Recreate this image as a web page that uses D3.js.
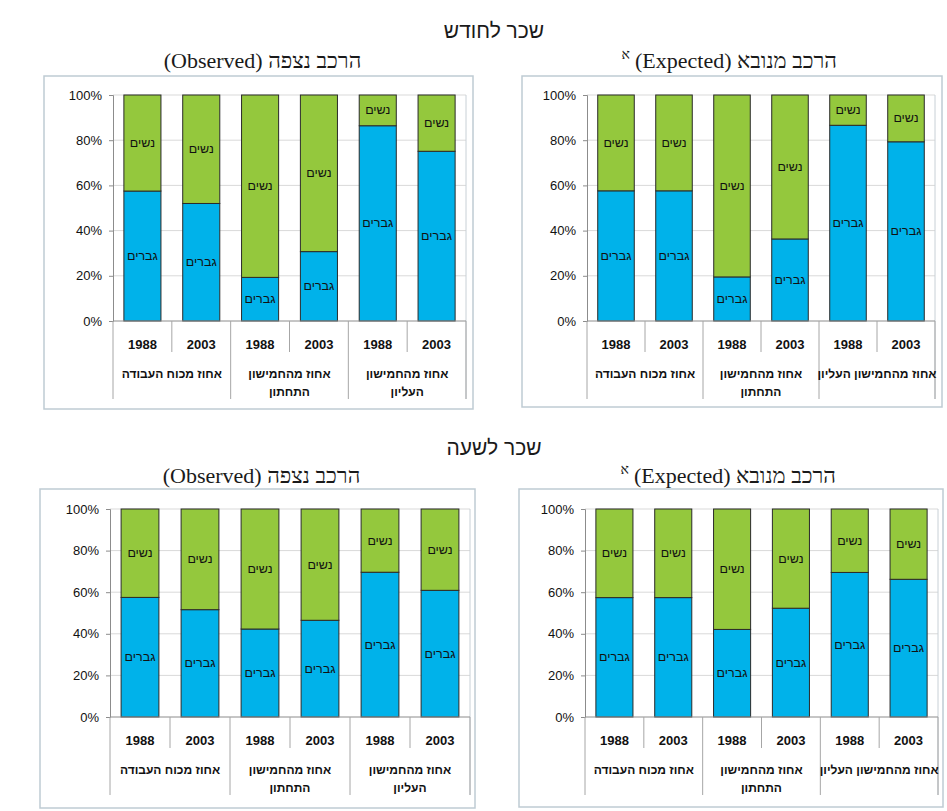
<!DOCTYPE html>
<html lang="he">
<head>
<meta charset="utf-8">
<script src="https://cdn.jsdelivr.net/npm/d3@7"></script>
<style>
  html, body { margin: 0; padding: 0; background: #ffffff; }
  svg { display: block; }
  text { font-family: Arial, "Liberation Sans", "DejaVu Sans", sans-serif; }
</style>
</head>
<body>
<svg id="chart" width="947" height="811"></svg>
<script>
// ---- Data ----
const years = ["1988", "2003", "1988", "2003", "1988", "2003"];
const groupNames = ["אחוז מכוח העבודה", "אחוז מהחמישון התחתון", "אחוז מהחמישון העליון"];
// group labels as they wrap under the axis (observed panels / expected panels)
const groupLinesObserved = [["אחוז מכוח העבודה"], ["אחוז מהחמישון", "התחתון"], ["אחוז מהחמישון", "העליון"]];
const groupLinesExpected = [["אחוז מכוח העבודה"], ["אחוז מהחמישון", "התחתון"], ["אחוז מהחמישון העליון"]];
const seriesNames = ["גברים", "נשים"];
const yTicks = [0, 20, 40, 60, 80, 100];

// monthly wage: observed and expected composition (% of each bar)
const menObservedMonthly   = [57.5, 52.0, 19.3, 30.7, 86.4, 75.1];
const womenObservedMonthly = [42.5, 48.0, 80.7, 69.3, 13.6, 24.9];
const menExpectedMonthly   = [57.6, 57.6, 19.5, 36.3, 86.6, 79.3];
const womenExpectedMonthly = [42.4, 42.4, 80.5, 63.7, 13.4, 20.7];
// hourly wage
const menObservedHourly    = [57.5, 51.6, 42.3, 46.5, 69.6, 60.9];
const womenObservedHourly  = [42.5, 48.4, 57.7, 53.5, 30.4, 39.1];
const menExpectedHourly    = [57.4, 57.4, 42.1, 52.3, 69.5, 66.2];
const womenExpectedHourly  = [42.6, 42.6, 57.9, 47.7, 30.5, 33.8];

const headings = ["שכר לחודש", "שכר לשעה"];
const titleObserved = "הרכב נצפה (Observed)";
const titleExpected = "הרכב מנובא (Expected)";

// ---- Layout ----
const COLORS = { men: "#00b2ea", women: "#94c83d" };
const svg = d3.select("#chart");

const panels = [
  { frame: [44, 76, 473, 409],  plot: [113, 466, 95, 321],  title: titleObserved, sup: false, titleY: 60,  men: menObservedMonthly, women: womenObservedMonthly, lines: groupLinesObserved },
  { frame: [522, 76, 942, 407], plot: [587, 935, 95, 321],  title: titleExpected, sup: true,  titleY: 60,  men: menExpectedMonthly, women: womenExpectedMonthly, lines: groupLinesExpected },
  { frame: [40, 489, 475, 808], plot: [110, 470, 509, 717], title: titleObserved, sup: false, titleY: 475, men: menObservedHourly, women: womenObservedHourly, lines: groupLinesObserved },
  { frame: [519, 489, 943, 807], plot: [585, 938, 509, 717], title: titleExpected, sup: true,  titleY: 475, men: menExpectedHourly, women: womenExpectedHourly, lines: groupLinesExpected }
];

// section headings
svg.append("text").attr("x", 494).attr("y", 30).attr("text-anchor", "middle")
  .attr("dominant-baseline", "central").attr("direction", "rtl")
  .style("font-size", "21px").style("fill", "#1a1a1a").text(headings[0]);
svg.append("text").attr("x", 494).attr("y", 447).attr("text-anchor", "middle")
  .attr("dominant-baseline", "central").attr("direction", "rtl")
  .style("font-size", "21px").style("fill", "#1a1a1a").text(headings[1]);

panels.forEach(p => {
  const [fx0, fy0, fx1, fy1] = p.frame;
  const [x0, x1, yTop, yBot] = p.plot;
  const g = svg.append("g");

  // outer chart frame
  g.append("rect").attr("x", fx0).attr("y", fy0).attr("width", fx1 - fx0).attr("height", fy1 - fy0)
    .attr("fill", "#fff").attr("stroke", "#bfcbd3").attr("stroke-width", 1.5);

  // panel title
  const t = g.append("text").attr("x", (fx0 + fx1) / 2 + 4).attr("y", p.titleY)
    .attr("text-anchor", "middle").attr("dominant-baseline", "central").attr("direction", "rtl")
    .style("font-family", "'Liberation Serif', 'DejaVu Serif', serif").style("font-size", "22px")
    .style("fill", "#1a1a1a").text(p.title);
  if (p.sup) {
    const bb = t.node().getBBox();
    g.append("text").attr("x", bb.x - 5).attr("y", p.titleY - 6)
      .attr("text-anchor", "end").attr("dominant-baseline", "central")
      .style("font-family", "'Liberation Serif', 'DejaVu Serif', serif").style("font-size", "14px")
      .style("fill", "#1a1a1a").text("א");
  }

  const idx = d3.range(years.length);
  const x = d3.scaleBand().domain(idx).range([x0, x1]).paddingInner(0.37).paddingOuter(0.185);
  const y = d3.scaleLinear().domain([0, 100]).range([yBot, yTop]);
  const step = x.step();

  // horizontal gridlines
  g.append("g").selectAll("line").data(yTicks.filter(v => v > 0)).join("line")
    .attr("x1", x0).attr("x2", x1).attr("y1", d => y(d)).attr("y2", d => y(d))
    .attr("stroke", "#d9d9d9").attr("stroke-width", 1);

  // right plot border, extended down through the category area
  g.append("line").attr("x1", x1).attr("x2", x1).attr("y1", yTop).attr("y2", yBot + 78)
    .attr("stroke", "#c8d0d6").attr("stroke-width", 1);

  // y axis
  const yAxis = d3.axisLeft(y).tickValues(yTicks).tickFormat(d => d + "%").tickSize(4).tickPadding(7);
  const ya = g.append("g").attr("transform", `translate(${x0},0)`).call(yAxis);
  ya.select(".domain").attr("stroke", "#8c8c8c");
  ya.selectAll(".tick line").attr("stroke", "#8c8c8c");
  ya.selectAll(".tick text").style("font-size", "13px").style("fill", "#111")
    .style("font-family", "Arial, 'Liberation Sans', sans-serif");

  // stacked bars
  const rows = idx.map(i => ({ i, men: p.men[i], women: p.women[i] }));
  const stack = d3.stack().keys(["men", "women"])(rows);
  const layer = g.append("g").selectAll("g").data(stack).join("g")
    .attr("fill", d => COLORS[d.key]);
  layer.selectAll("rect").data(d => d).join("rect")
    .attr("x", d => x(d.data.i)).attr("width", x.bandwidth())
    .attr("y", d => y(d[1])).attr("height", d => y(d[0]) - y(d[1]))
    .attr("stroke", "#2a2a2a").attr("stroke-width", 1);

  // segment labels
  stack.forEach((s, k) => {
    g.append("g").selectAll("text").data(s).join("text")
      .attr("x", d => x(d.data.i) + x.bandwidth() / 2)
      .attr("y", d => (y(d[0]) + y(d[1])) / 2)
      .attr("text-anchor", "middle").attr("dominant-baseline", "central").attr("direction", "rtl")
      .style("font-size", "12.5px").style("fill", "#111")
      .text(seriesNames[k]);
  });

  // x axis baseline
  g.append("line").attr("x1", x0).attr("x2", x1).attr("y1", yBot).attr("y2", yBot)
    .attr("stroke", "#8c8c8c").attr("stroke-width", 1);

  // category dividers: short ones between years, long ones between groups
  const bounds = d3.range(years.length + 1).map(i => x0 + i * step);
  g.append("g").selectAll("line").data(bounds).join("line")
    .attr("x1", d => d).attr("x2", d => d)
    .attr("y1", yBot).attr("y2", (d, i) => (i % 2 === 0 ? yBot + 78 : yBot + 31))
    .attr("stroke", "#a6a6a6").attr("stroke-width", 1);

  // year labels
  g.append("g").selectAll("text").data(idx).join("text")
    .attr("x", i => x(i) + x.bandwidth() / 2).attr("y", yBot + 23)
    .attr("text-anchor", "middle").attr("dominant-baseline", "central")
    .style("font-size", "13px").style("font-weight", "bold").style("fill", "#111")
    .text(i => years[i]);

  // group labels
  p.lines.forEach((lines, gi) => {
    const cx = x0 + (gi * 2 + 1) * step;
    lines.forEach((ln, li) => {
      g.append("text").attr("x", cx).attr("y", yBot + 53 + li * 18)
        .attr("text-anchor", "middle").attr("dominant-baseline", "central").attr("direction", "rtl")
        .style("font-size", "12px").style("font-weight", "bold").style("fill", "#111")
        .text(ln);
    });
  });
});
</script>
</body>
</html>
